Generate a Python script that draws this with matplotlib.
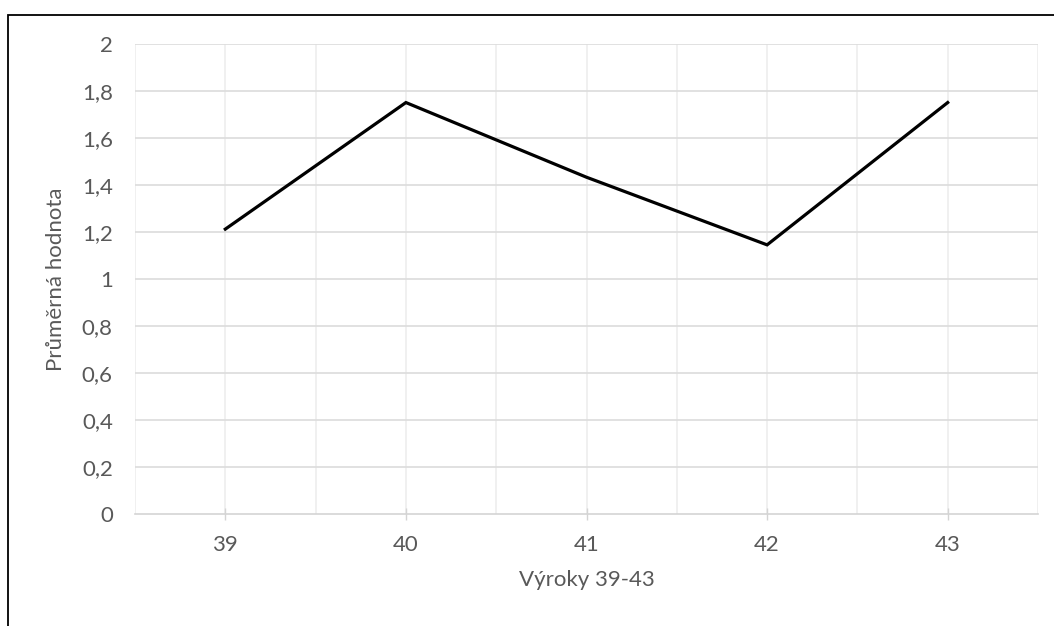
import numpy as np
import matplotlib.pyplot as plt
from matplotlib.patches import Rectangle

vyroky = [39, 40, 41, 42, 43]
prumer = [1.213, 1.752, 1.434, 1.146, 1.752]
y_ticks = [0, 0.2, 0.4, 0.6, 0.8, 1.0, 1.2, 1.4, 1.6, 1.8, 2.0]
y_labels = ['0', '0,2', '0,4', '0,6', '0,8', '1', '1,2', '1,4', '1,6', '1,8', '2']

plt.rcParams['font.family'] = ['Lato', 'DejaVu Sans']
text_col = '#595959'

fig = plt.figure(figsize=(10.54, 6.26), dpi=100)
ax = fig.add_axes([135 / 1054, 1 - 514 / 626, (1038 - 135) / 1054, (514 - 44.3) / 626])

x = np.arange(len(vyroky))
ax.plot(x, prumer, color='black', lw=2.3, solid_joinstyle='miter', zorder=3)

ax.set_xlim(-0.5, len(vyroky) - 0.5)
ax.set_ylim(0, 2)
ax.set_yticks(y_ticks)
ax.set_yticklabels(y_labels)
ax.set_xticks(x)
ax.set_xticklabels([str(v) for v in vyroky])

# vertical grid every half category, horizontal at y ticks
for gx in np.arange(-0.5, len(vyroky), 0.5):
    ax.axvline(gx, color='#eeeeee', lw=1.2, zorder=1)
for gy in y_ticks[1:]:
    ax.axhline(gy, color='#dcdcdc', lw=1.2, zorder=1)

for s in ['top', 'right', 'left']:
    ax.spines[s].set_visible(False)
ax.spines['bottom'].set_color('#d4d4d4')
ax.spines['bottom'].set_linewidth(1.2)

ax.tick_params(axis='y', length=0, pad=16, labelsize=16, labelcolor=text_col)
ax.tick_params(axis='x', direction='inout', length=8, width=1, color='#d4d4d4',
               pad=11, labelsize=16, labelcolor=text_col)

ax.set_xlabel('Výroky 39-43', fontsize=16, color=text_col, labelpad=11)
ax.set_ylabel('Průměrná hodnota', fontsize=16, color=text_col, labelpad=11)

# chart border
fig.patches.append(Rectangle((8 / 1054, -0.1), 1.2, 1 - 15 / 626 + 0.1,
                             transform=fig.transFigure, fill=False,
                             edgecolor='black', lw=1.3))

fig.savefig('out.png', dpi=100)
